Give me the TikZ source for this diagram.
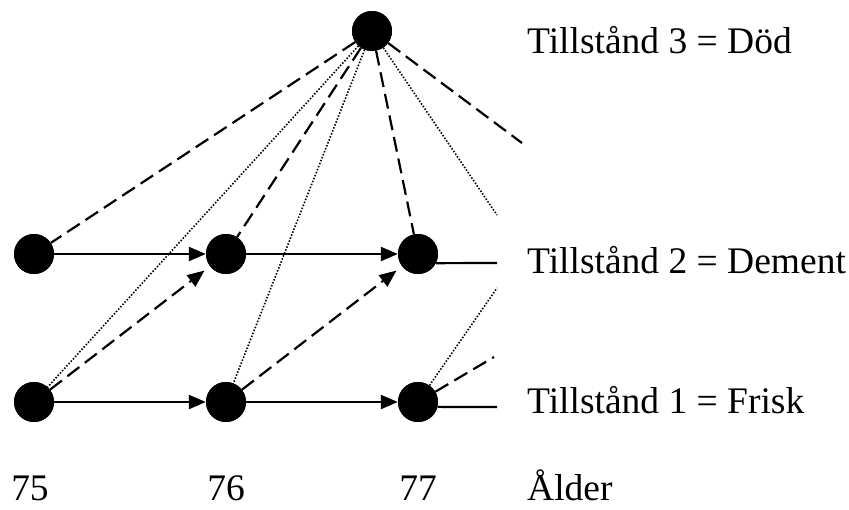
\documentclass[tikz,border=0pt]{standalone}
\usepackage{fontspec}
\setmainfont{Liberation Serif}
\usetikzlibrary{arrows.meta}
\begin{document}
\begin{tikzpicture}[x=1pt,y=-1pt,
  state/.style={circle,fill=black,minimum size=40pt,inner sep=0pt},
  lab/.style={inner sep=0pt,font=\fontsize{37.5}{40}\selectfont},
  solidline/.style={line width=2.2pt},
  dashline/.style={line width=2.2pt,dash pattern=on 15pt off 7pt},
  dotline/.style={line width=1.6pt,dash pattern=on 1.5pt off 1.7pt},
  tip/.style={-{Triangle[length=17pt,width=14pt]}}]
\useasboundingbox (0,0) rectangle (849,509);
% node positions
\coordinate (p3) at (372,31);
\coordinate (p21) at (34,254);
\coordinate (p22) at (226,254);
\coordinate (p23) at (418,254);
\coordinate (p11) at (34,402);
\coordinate (p12) at (226,402);
\coordinate (p13) at (418,402);
\node[state] (d) at (p3) {};
\node[state] (n21) at (p21) {};
\node[state] (n22) at (p22) {};
\node[state] (n23) at (p23) {};
\node[state] (n11) at (p11) {};
\node[state] (n12) at (p12) {};
\node[state] (n13) at (p13) {};
% free ends
\coordinate (t1) at (522,143);
\coordinate (t2) at (497,215);
\coordinate (e2) at (497,263);
\coordinate (e1) at (497,407);
\coordinate (f1) at (494,357);
\coordinate (f2) at (497,288);
% lines from top node
\draw[dashline] (d) -- (n21);
\draw[dotline] (d) -- (n11);
\draw[dashline] (d) -- (n22);
\draw[dotline] (d) -- (n12);
\draw[dashline] (d) -- (n23);
\draw[dotline] (d) -- (t2);
\draw[dashline] (d) -- (t1);
% horizontal arrows
\draw[solidline,tip] (n21) -- (n22);
\draw[solidline,tip] (n22) -- (n23);
\draw[solidline,tip] (n11) -- (n12);
\draw[solidline,tip] (n12) -- (n13);
\draw[solidline] (n23.-27) -- (e2);
\draw[solidline] (n13.-14) -- (e1);
% diagonal dashed arrows
\draw[dashline,tip,shorten >=7pt] (n11) -- (n22);
\draw[dashline,tip,shorten >=7pt] (n12) -- (n23);
\draw[dashline] (n13) -- (f1);
\draw[dotline] (n13) -- (f2);
% redraw nodes on top
\fill (p3) circle (20pt);
\fill (p21) circle (20pt);
\fill (p22) circle (20pt);
\fill (p23) circle (20pt);
\fill (p11) circle (20pt);
\fill (p12) circle (20pt);
\fill (p13) circle (20pt);
% labels
\node[lab,anchor=base west] (l3) at (527,53) {Tillstånd 3 = Död};
\node[lab,anchor=base west] (l2) at (527,273) {Tillstånd 2 = Dement};
\node[lab,anchor=base west] (l1) at (527,413) {Tillstånd 1 = Frisk};
\node[lab,anchor=base] (a75) at (30,500) {75};
\node[lab,anchor=base] (a76) at (226,500) {76};
\node[lab,anchor=base] (a77) at (418,500) {77};
\node[lab,anchor=base west] (al) at (527,500) {Ålder};
\end{tikzpicture}
\end{document}
